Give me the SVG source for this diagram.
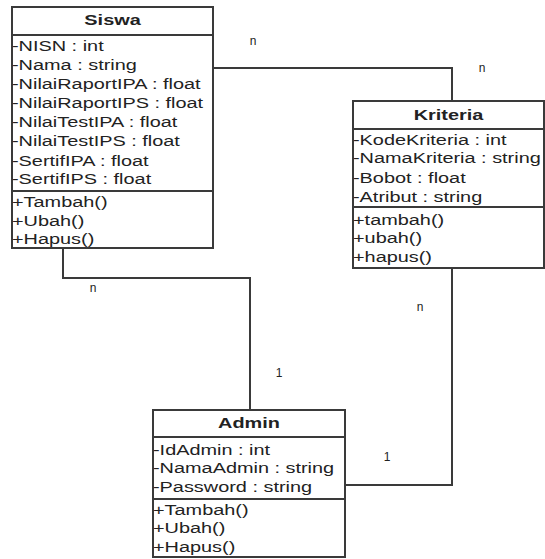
<svg xmlns="http://www.w3.org/2000/svg" width="545" height="559" viewBox="0 0 545 559">
<style>
.box{fill:#fff;stroke:#3a3a3a;stroke-width:2}
.div{stroke:#3a3a3a;stroke-width:2}
.t{font-family:"Liberation Sans",Arial,sans-serif;font-size:14px;fill:#222}
.h{font-family:"Liberation Sans",Arial,sans-serif;font-size:14px;font-weight:bold;fill:#222;text-anchor:middle}
.lbl{font-family:"Liberation Sans",Arial,sans-serif;font-size:12px;fill:#222;text-anchor:middle}
.conn{fill:none;stroke:#3a3a3a;stroke-width:2}
</style>
<rect width="545" height="559" fill="#fff"/>
<g id="connectors">
<path class="conn" d="M213,68 H452 V101"/>
<path class="conn" d="M63,248 V278 H250 V410"/>
<path class="conn" d="M452,268 V485 H345"/>
</g>
<g id="labels">
<text class="lbl" x="253" y="45">n</text>
<text class="lbl" x="482" y="72">n</text>
<text class="lbl" x="93" y="292">n</text>
<text class="lbl" x="279" y="377">1</text>
<text class="lbl" x="420" y="311">n</text>
<text class="lbl" x="387" y="461">1</text>
</g>
<g id="siswa">
<rect class="box" x="12" y="7" width="201" height="241"/>
<line class="div" x1="12" y1="35" x2="213" y2="35"/>
<line class="div" x1="12" y1="191" x2="213" y2="191"/>
<g transform="translate(12,0) scale(1.42,1)">
<text class="h" x="70.8" y="25">Siswa</text>
<text class="t" x="0" y="51">-NISN : int</text>
<text class="t" x="0" y="70">-Nama : string</text>
<text class="t" x="0" y="89">-NilaiRaportIPA : float</text>
<text class="t" x="0" y="108">-NilaiRaportIPS : float</text>
<text class="t" x="0" y="127">-NilaiTestIPA : float</text>
<text class="t" x="0" y="146">-NilaiTestIPS : float</text>
<text class="t" x="0" y="166">-SertifIPA : float</text>
<text class="t" x="0" y="184">-SertifIPS : float</text>
<text class="t" x="0" y="207">+Tambah()</text>
<text class="t" x="0" y="226">+Ubah()</text>
<text class="t" x="0" y="244">+Hapus()</text>
</g>
</g>
<g id="kriteria">
<rect class="box" x="353" y="101" width="191" height="167"/>
<line class="div" x1="353" y1="129" x2="544" y2="129"/>
<line class="div" x1="353" y1="207" x2="544" y2="207"/>
<g transform="translate(353,0) scale(1.42,1)">
<text class="h" x="67.3" y="120">Kriteria</text>
<text class="t" x="0" y="145">-KodeKriteria : int</text>
<text class="t" x="0" y="163">-NamaKriteria : string</text>
<text class="t" x="0" y="183">-Bobot : float</text>
<text class="t" x="0" y="202">-Atribut : string</text>
<text class="t" x="0" y="225">+tambah()</text>
<text class="t" x="0" y="243">+ubah()</text>
<text class="t" x="0" y="262">+hapus()</text>
</g>
</g>
<g id="admin">
<rect class="box" x="153" y="410" width="192" height="147"/>
<line class="div" x1="153" y1="437" x2="345" y2="437"/>
<line class="div" x1="153" y1="499" x2="345" y2="499"/>
<g transform="translate(153,0) scale(1.42,1)">
<text class="h" x="67.6" y="428">Admin</text>
<text class="t" x="0" y="455">-IdAdmin : int</text>
<text class="t" x="0" y="473">-NamaAdmin : string</text>
<text class="t" x="0" y="492">-Password : string</text>
<text class="t" x="0" y="515">+Tambah()</text>
<text class="t" x="0" y="533">+Ubah()</text>
<text class="t" x="0" y="552">+Hapus()</text>
</g>
</g>
</svg>
